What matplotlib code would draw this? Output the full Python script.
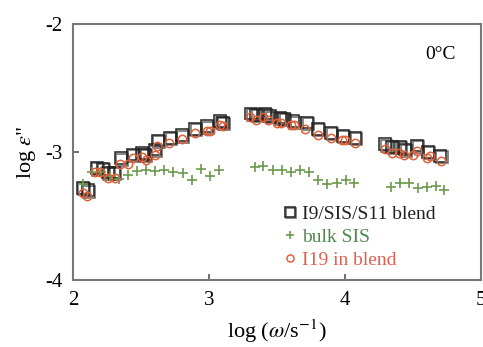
import matplotlib
matplotlib.use("Agg")
import matplotlib.pyplot as plt
import matplotlib.patheffects as pe

plt.rcParams['font.family'] = ['Liberation Serif', 'DejaVu Serif']
plt.rcParams['mathtext.fontset'] = 'stix'

# I9/SIS/S11 blend (squares)
blend_x = [2.07, 2.107, 2.173, 2.217, 2.254, 2.298, 2.35, 2.438, 2.504, 2.527, 2.60, 2.622,
           2.711, 2.799, 2.895, 2.983, 3.079, 3.10, 3.307, 3.344, 3.41, 3.447, 3.52, 3.55,
           3.62, 3.72, 3.80, 3.896, 3.984, 4.073, 4.294, 4.345, 4.404, 4.441, 4.529, 4.61, 4.70]
blend_y = [-3.28, -3.30, -3.125, -3.13, -3.16, -3.16, -3.05, -3.02, -3.01, -3.02, -2.98, -2.91,
           -2.89, -2.87, -2.82, -2.80, -2.76, -2.77, -2.70, -2.71, -2.70, -2.72, -2.73, -2.74,
           -2.76, -2.77, -2.82, -2.85, -2.875, -2.89, -2.94, -2.96, -2.96, -2.98, -2.95, -3.00, -3.03]

# bulk SIS (plus)
sis_x = [2.07, 2.136, 2.20, 2.27, 2.335, 2.40, 2.468, 2.534, 2.60, 2.666, 2.733, 2.806,
         2.873, 2.94, 3.005, 3.071, 3.336, 3.395, 3.469, 3.535, 3.60, 3.668, 3.734, 3.80,
         3.867, 3.94, 4.006, 4.065, 4.338, 4.404, 4.47, 4.537, 4.60, 4.67, 4.73]
sis_y = [-3.25, -3.156, -3.16, -3.19, -3.21, -3.18, -3.148, -3.14, -3.15, -3.14, -3.16, -3.164,
         -3.22, -3.133, -3.19, -3.14, -3.117, -3.11, -3.14, -3.14, -3.16, -3.14, -3.16, -3.22,
         -3.25, -3.245, -3.22, -3.24, -3.27, -3.24, -3.245, -3.28, -3.275, -3.265, -3.30]

# I19 in blend (circles)
i19_x = [2.070, 2.099, 2.158, 2.195, 2.254, 2.306, 2.342, 2.401, 2.438, 2.504, 2.534, 2.600,
         2.615, 2.703, 2.799, 2.895, 2.983, 3.005, 3.079, 3.101, 3.300, 3.344, 3.395, 3.432,
         3.499, 3.528, 3.602, 3.624, 3.705, 3.800, 3.896, 3.977, 3.999, 4.073, 4.294, 4.345,
         4.397, 4.434, 4.500, 4.529, 4.603, 4.625, 4.706]
i19_y = [-3.32, -3.34, -3.16, -3.16, -3.20, -3.20, -3.09, -3.09, -3.05, -3.04, -3.06, -3.02,
         -2.95, -2.93, -2.90, -2.85, -2.84, -2.84, -2.79, -2.80, -2.73, -2.75, -2.73, -2.75,
         -2.77, -2.77, -2.79, -2.79, -2.82, -2.87, -2.89, -2.91, -2.91, -2.93, -2.98, -3.01,
         -3.01, -3.02, -3.02, -2.99, -3.05, -3.03, -3.07]

fig = plt.figure(figsize=(4.83, 3.47), dpi=100)
ax = fig.add_axes([0.152, 0.193, 0.844, 0.738])

shadow = [pe.SimpleLineShadow(offset=(1, -1), shadow_color='k', alpha=0.6), pe.Normal()]
ax.plot(blend_x, blend_y, 's', ms=8.5, mfc='none', mec='#222222', mew=1.1,
        path_effects=shadow, label='I9/SIS/S11 blend')
ax.plot(sis_x, sis_y, '+', ms=7, mec='#6b9a4e', mew=1.2, label='bulk SIS')
ax.plot(i19_x, i19_y, 'o', ms=6, mfc='none', mec='#e0603a', mew=1.1, label='I19 in blend')

ax.set_xlim(2, 5)
ax.set_ylim(-4, -2)
ax.set_xticks([2, 3, 4, 5])
ax.set_yticks([-4, -3, -2])
ax.set_xticklabels(['2', '3', '4', '5'])
ax.set_yticklabels(['-4', '-3', '-2'])

for s in ax.spines.values():
    s.set_color('#777777')
    s.set_linewidth(1.5)
ax.tick_params(direction='in', length=4, width=1.2, color='#555555',
               labelsize=15, pad=8)

ax.set_xlabel(r'log ($\omega$/s$^{-1}$)', fontsize=16, labelpad=5)
ax.set_ylabel(r'log $\varepsilon$"', fontsize=16, labelpad=5)

ax.text(4.70, -2.24, '0°C', fontsize=14, ha='center', va='center')

leg = fig.legend(handles=ax.get_lines(), loc='upper left',
                 bbox_to_anchor=(284 / 483, 1 - 205 / 347), frameon=False,
                 fontsize=14, handlelength=0.6, handletextpad=0.35, labelspacing=0.28,
                 borderpad=0, borderaxespad=0, markerscale=0.85)
colors = ['#222222', '#4e8a4e', '#e06050']
for t, c in zip(leg.get_texts(), colors):
    t.set_color(c)

fig.savefig('out.png', dpi=100)
